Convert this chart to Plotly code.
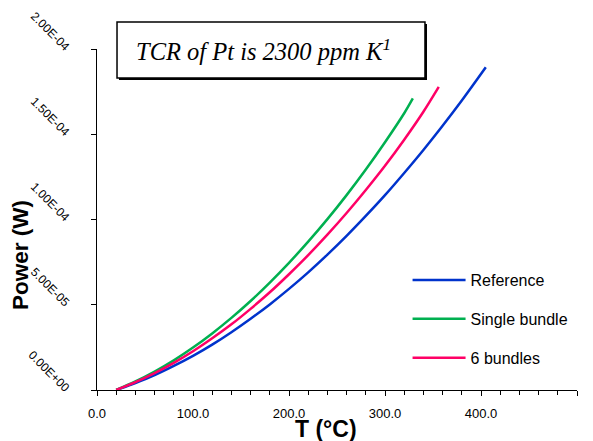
import plotly.graph_objects as go

# ---- data ----
ref_T = [20, 40, 60, 80, 100, 120, 140, 160, 180, 200, 220, 240, 260, 280, 300, 320, 340, 360, 380, 405]
ref_P = [0, 4.1, 8.7, 14.1, 20.0, 26.6, 33.9, 41.8, 50.2, 59.3, 69.0, 79.4, 90.4, 102.1, 114.3, 127.3, 140.8, 155.0, 169.8, 189.3]

single_T = [20, 40, 60, 80, 100, 120, 140, 160, 180, 200, 220, 240, 260, 280, 300, 320, 329]
single_P = [0, 5.0, 10.8, 17.4, 24.9, 33.2, 42.3, 52.2, 63.0, 74.6, 87.0, 100.2, 114.3, 129.3, 145.3, 162.3, 171.0]

six_T = [20, 40, 60, 80, 100, 120, 140, 160, 180, 200, 220, 240, 260, 280, 300, 320, 340, 356]
six_P = [0, 4.6, 9.9, 15.9, 22.7, 30.3, 38.5, 47.6, 57.3, 67.9, 79.1, 91.1, 103.8, 117.3, 131.5, 146.8, 163.2, 177.8]

series_names = ["Reference", "Single bundle", "6 bundles"]
series_colors = ["#0033cc", "#00b050", "#ff0066"]

y_tickvals = [0, 5e-5, 1e-4, 1.5e-4, 2e-4]
y_ticktext = ["0.00E+00", "5.00E-05", "1.00E-04", "1.50E-04", "2.00E-04"]
x_tickvals = [0, 100, 200, 300, 400, 500]
x_ticktext = ["0.0", "100.0", "200.0", "300.0", "400.0", "500.0"]

title_text = "<i>TCR of Pt is 2300 ppm K<sup>1</sup></i>"

SANS = "Liberation Sans, Arial, sans-serif"
SERIF = "Liberation Serif, Times New Roman, serif"

fig = go.Figure()
for name, T, P, c in zip(series_names, [ref_T, single_T, six_T], [ref_P, single_P, six_P], series_colors):
    fig.add_trace(go.Scatter(
        x=T, y=[p * 1e-6 for p in P], mode="lines", name=name,
        legendgroup=name, line=dict(color=c, width=2.5, shape="spline", smoothing=0.8),
    ))

# the page body adds an 8px offset, so the figure is 585x433
fig.update_layout(
    width=585, height=433,
    margin=dict(l=89, r=16, t=41, b=51, autoexpand=False),
    paper_bgcolor="white", plot_bgcolor="white",
    font=dict(family=SANS, color="black"),
    showlegend=True,
    legend=dict(
        x=0.647, y=0.372, xanchor="left", yanchor="top",
        font=dict(size=16, family=SANS, color="black"),
        bgcolor="rgba(0,0,0,0)", tracegroupgap=15, itemwidth=53,
    ),
    xaxis=dict(
        range=[0, 500], tickvals=x_tickvals, ticktext=x_ticktext, automargin=False,
        ticks="outside", ticklen=5, tickcolor="black", tickwidth=1,
        showline=True, linecolor="black", linewidth=1, showgrid=False, zeroline=False,
        tickfont=dict(size=13, family=SANS, color="black"),
        ticklabelstandoff=6,
        minor=dict(dtick=20, ticks="outside", ticklen=4, tickcolor="black", tickwidth=1, showgrid=False),
    ),
    yaxis=dict(
        range=[0, 2e-4], tickvals=y_tickvals, ticktext=y_ticktext, automargin=False,
        ticks="outside", ticklen=5, tickcolor="black", tickwidth=1,
        showline=True, linecolor="black", linewidth=1, showgrid=False, zeroline=False,
        tickfont=dict(size=12, family=SANS, color="black"),
        tickangle=45, ticklabelstandoff=20,
    ),
)

# title box with shadow
fig.add_shape(type="rect", xref="paper", yref="paper",
              x0=0.0458, x1=0.6875, y0=0.909, y1=1.073,
              line=dict(width=0), fillcolor="black", layer="above")
fig.add_shape(type="rect", xref="paper", yref="paper",
              x0=0.0417, x1=0.6833, y0=0.915, y1=1.079,
              line=dict(width=1.5, color="black"), fillcolor="white", layer="above")
fig.add_annotation(text=title_text, xref="paper", yref="paper", x=0.347, y=0.997,
                   showarrow=False, font=dict(family=SERIF, size=24.5, color="black"),
                   xanchor="center", yanchor="middle")

# axis titles
fig.add_annotation(text="<b>Power (W)</b>", xref="paper", yref="paper", x=-0.158, y=0.396,
                   textangle=-90, showarrow=False, font=dict(family=SANS, size=22.5, color="black"),
                   xanchor="center", yanchor="middle")
fig.add_annotation(text="<b>T (°C)</b>", xref="paper", yref="paper", x=0.477, y=-0.113,
                   showarrow=False, font=dict(family=SANS, size=23, color="black"),
                   xanchor="center", yanchor="middle")

fig.write_html("out.html")
